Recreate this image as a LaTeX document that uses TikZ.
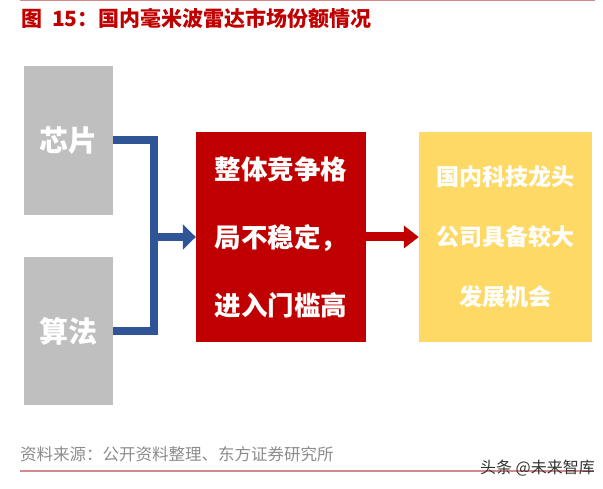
\documentclass[tikz,border=0pt]{standalone}
\usepackage{fontspec}
\setmainfont{Noto Sans CJK SC}
\usetikzlibrary{arrows.meta}
\definecolor{boxgray}{HTML}{BFBFBF}
\definecolor{linkblue}{HTML}{2F5597}
\definecolor{deepred}{HTML}{C00000}
\definecolor{softyellow}{HTML}{FFD966}
\definecolor{notegray}{HTML}{8C8C8C}
\definecolor{rulered}{HTML}{D38A8C}

\begin{document}
\begin{tikzpicture}[x=1pt,y=-1pt,
  graybox/.style={fill=boxgray,text=white,minimum width=89pt,inner sep=0pt,font=\fontsize{29}{32}\selectfont\bfseries},
  redbox/.style={fill=deepred,text=white,minimum width=170pt,minimum height=210pt,inner sep=0pt,align=center,font=\fontsize{26.5}{68}\selectfont\bfseries},
  yellowbox/.style={fill=softyellow,text=white,minimum width=173pt,minimum height=210pt,inner sep=0pt,align=center,font=\fontsize{23}{60}\selectfont\bfseries},
  bluelink/.style={draw=linkblue,line width=8pt,line join=miter},
  bluearrow/.style={draw=linkblue,line width=8pt,-{Triangle[length=13pt,width=25pt]}},
  redarrow/.style={draw=deepred,line width=9pt,-{Triangle[length=15pt,width=22pt]}}]
\path[use as bounding box] (0,0) rectangle (603,489);
% heading and rules
\draw[rulered,line width=1.2pt] (20,0.8) -- (595,0.8);
\node[anchor=west,inner sep=0pt,text=deepred,font=\fontsize{21}{24}\selectfont\bfseries] (title) at (21,18) {图\hspace{10pt}15：国内毫米波雷达市场份额情况};
% boxes
\node[graybox,minimum height=149pt] (chip) at (68.5,140.5) {芯片};
\node[graybox,minimum height=148pt] (algo) at (68.5,331) {算法};
\node[redbox] (compete) at (281,237) {整体竞争格\\局不稳定，\\进入门槛高};
\node[yellowbox] (chance) at (505.5,237) {国内科技龙头\\公司具备较大\\发展机会};
% connectors
\coordinate (join) at (154,237);
\draw[bluelink] (chip.east) -| (join) |- (algo.east);
\draw[bluearrow] (join) -- (compete.west);
\draw[redarrow] (compete.east) -- (chance.west);
% footer
\node[anchor=west,inner sep=0pt,text=notegray,font=\fontsize{16.5}{19}\selectfont] (source) at (20,454) {资料来源：公开资料整理、东方证券研究所};
\draw[rulered,line width=1.2pt] (20,471) -- (594,471);
\node[anchor=east,inner sep=0pt,text=black!80,font=\fontsize{16}{19}\selectfont] (mark) at (595,468) {头条 @未来智库};
\end{tikzpicture}
\end{document}
